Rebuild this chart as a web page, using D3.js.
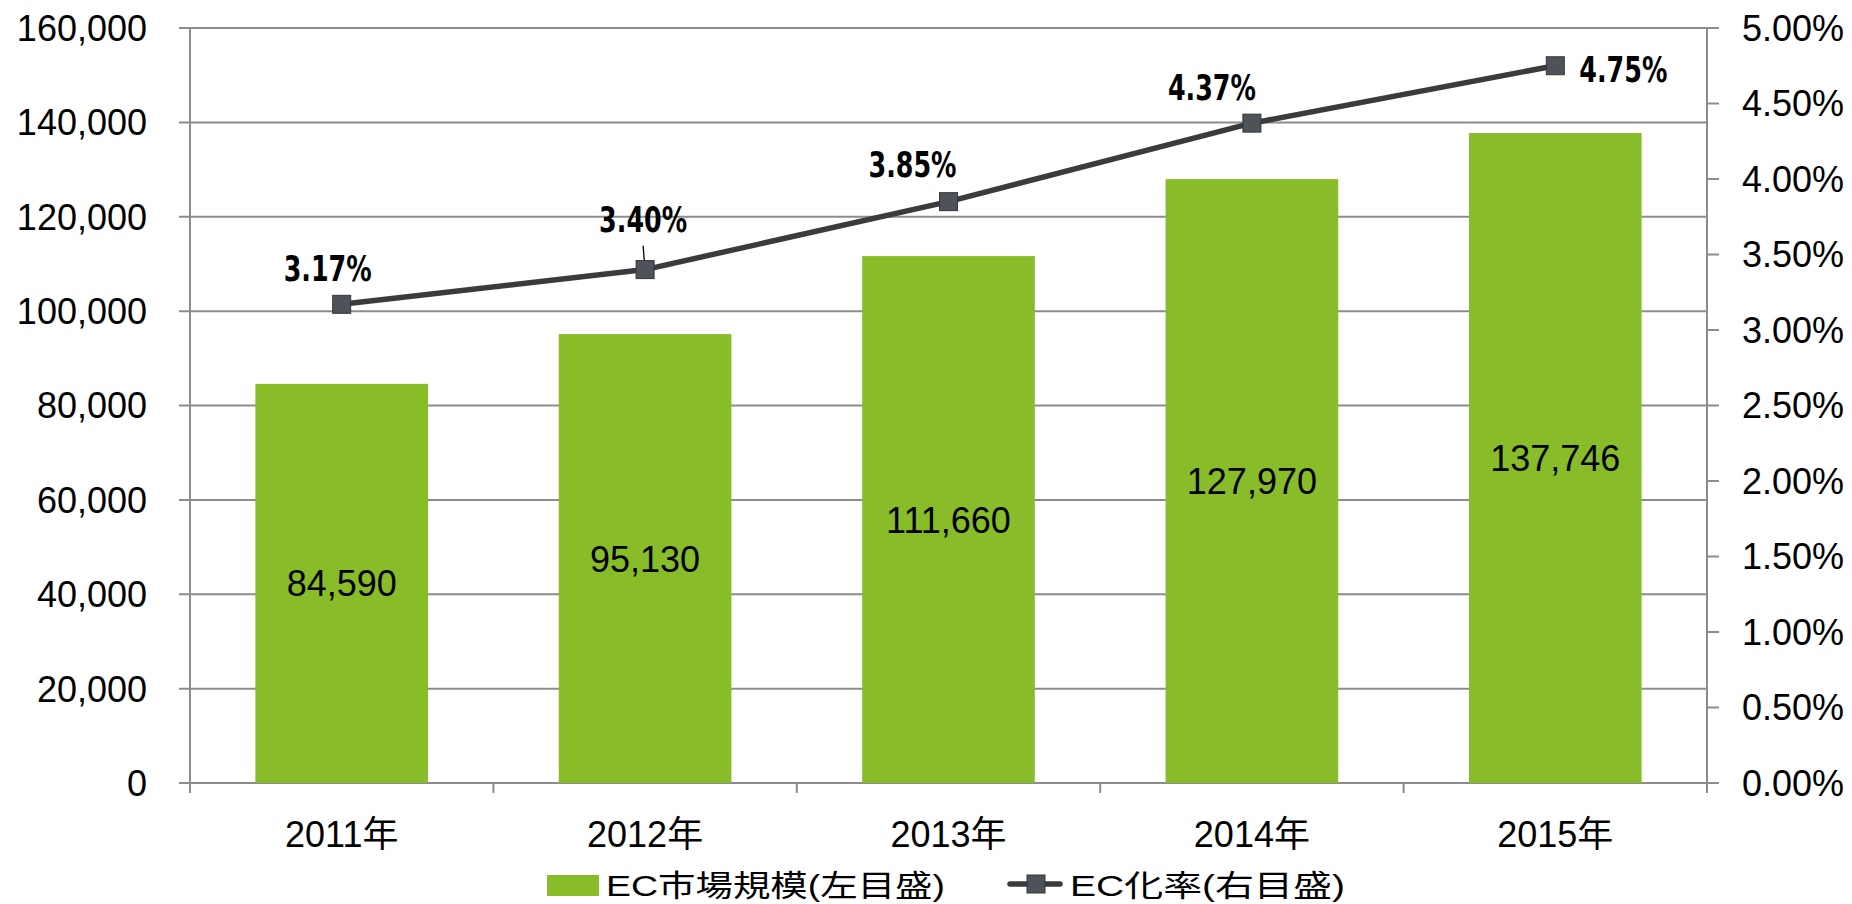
<!DOCTYPE html>
<html>
<head>
<meta charset="utf-8">
<script src="https://cdn.jsdelivr.net/npm/d3@7"></script>
<style>
  body { margin: 0; background: #fff; }
  svg { display: block; }
  text { font-family: "Liberation Sans", Arial, sans-serif; fill: #000; }
  .cjk { font-family: "Liberation Sans", "Noto Sans CJK JP", sans-serif; }
  .pct { font-family: "Liberation Sans Narrow", "DejaVu Sans Condensed", sans-serif; font-weight: bold; }
</style>
</head>
<body>
<div class="chart"></div>
<script>
// data
const years = ['2011年', '2012年', '2013年', '2014年', '2015年']
const marketSize = [84590, 95130, 111660, 127970, 137746]
const ecRate = [0.0317, 0.0340, 0.0385, 0.0437, 0.0475]
const leftTicks = [0, 20000, 40000, 60000, 80000, 100000, 120000, 140000, 160000]
const rightTicks = [0, 0.005, 0.01, 0.015, 0.02, 0.025, 0.03, 0.035, 0.04, 0.045, 0.05]
const legendLabels = ['EC市場規模(左目盛)', 'EC化率(右目盛)']

// label nudges, relative to each marker
const labelNudge = [[-14, -23, 'middle'], [-2, -38, 'middle'], [-36, -25, 'middle'], [-40, -23, 'middle'], [24, 16, 'start']]

const width = 1852
const height = 904
const margin = {top: 28, right: 145, bottom: 121, left: 190}

const green = '#88bc29'
const gridColor = '#8c8c8c'
const lineColor = '#3b3b3d'

const svg = d3.select('.chart')
.append('svg')
.attr('width', width)
.attr('height', height)

const x = d3.scaleBand()
.domain(years)
.range([margin.left, width - margin.right])
.paddingInner(0.431)
.paddingOuter(0.2155)

const y = d3.scaleLinear()
.domain([0, 160000])
.range([height - margin.bottom, margin.top])

const yRight = d3.scaleLinear()
.domain([0, 0.05])
.range([height - margin.bottom, margin.top])

const x0 = margin.left
const x1 = width - margin.right
const y0 = height - margin.bottom

// gridlines + left ticks
svg.append('g')
.selectAll('line')
.data(leftTicks)
.join('line')
.attr('x1', x0 - 11)
.attr('x2', x1)
.attr('y1', d => y(d))
.attr('y2', d => y(d))
.attr('stroke', gridColor)
.attr('stroke-width', 2)

// left axis labels
const fmt = d3.format(',')
svg.append('g')
.selectAll('text')
.data(leftTicks)
.join('text')
.attr('x', 147)
.attr('y', d => y(d))
.attr('dy', '0.36em')
.attr('text-anchor', 'end')
.style('font-size', '36px')
.text(d => fmt(d))

// right axis
svg.append('g')
.selectAll('line')
.data(rightTicks)
.join('line')
.attr('x1', x1)
.attr('x2', x1 + 12)
.attr('y1', d => yRight(d))
.attr('y2', d => yRight(d))
.attr('stroke', gridColor)
.attr('stroke-width', 2)

svg.append('g')
.selectAll('text')
.data(rightTicks)
.join('text')
.attr('x', 1742)
.attr('y', d => yRight(d))
.attr('dy', '0.36em')
.style('font-size', '36px')
.text(d => d3.format('.2%')(d))

// bars (cover the gridlines)
svg.append('g')
.selectAll('rect')
.data(marketSize)
.join('rect')
.attr('x', (d, i) => x(years[i]))
.attr('width', x.bandwidth())
.attr('y', d => y(d))
.attr('height', d => y0 - y(d))
.attr('fill', green)

svg.append('g')
.selectAll('text')
.data(marketSize)
.join('text')
.attr('x', (d, i) => x(years[i]) + x.bandwidth() / 2)
.attr('y', d => (y(d) + y0) / 2)
.attr('dy', '0.36em')
.attr('text-anchor', 'middle')
.style('font-size', '36px')
.text(d => fmt(d))

// vertical axis lines
svg.append('line')
.attr('x1', x0).attr('x2', x0)
.attr('y1', margin.top).attr('y2', y0 + 10)
.attr('stroke', gridColor).attr('stroke-width', 2)

svg.append('line')
.attr('x1', x1).attr('x2', x1)
.attr('y1', margin.top).attr('y2', y0 + 10)
.attr('stroke', gridColor).attr('stroke-width', 2)

// category ticks
const step = x.step()
svg.append('g')
.selectAll('line')
.data(d3.range(years.length + 1))
.join('line')
.attr('x1', i => x0 + i * step)
.attr('x2', i => x0 + i * step)
.attr('y1', y0)
.attr('y2', y0 + 10)
.attr('stroke', gridColor)
.attr('stroke-width', 2)

svg.append('g')
.selectAll('text')
.data(years)
.join('text')
.attr('class', 'cjk')
.attr('x', d => x(d) + x.bandwidth() / 2)
.attr('y', 847)
.attr('text-anchor', 'middle')
.style('font-size', '36px')
.text(d => d)

// line series
const cx = i => x(years[i]) + x.bandwidth() / 2

const line = d3.line()
.x((d, i) => cx(i))
.y(d => yRight(d))

svg.append('path')
.datum(ecRate)
.attr('d', line)
.attr('fill', 'none')
.attr('stroke', lineColor)
.attr('stroke-width', 5.5)
.attr('stroke-linejoin', 'round')

// leader line for the 2012 label
svg.append('line')
.attr('x1', cx(1) - 2).attr('x2', cx(1) - 0.5)
.attr('y1', yRight(ecRate[1]) - 24)
.attr('y2', yRight(ecRate[1]) - 5)
.attr('stroke', '#000').attr('stroke-width', 1.3)

svg.append('g')
.selectAll('rect')
.data(ecRate)
.join('rect')
.attr('x', (d, i) => cx(i) - 9)
.attr('y', d => yRight(d) - 9)
.attr('width', 18)
.attr('height', 18)
.attr('fill', '#4e5259')
.attr('stroke', '#34373b')
.attr('stroke-width', 1)

svg.append('g')
.selectAll('text')
.data(ecRate)
.join('text')
.attr('class', 'pct')
.attr('x', (d, i) => cx(i) + labelNudge[i][0])
.attr('y', (d, i) => yRight(d) + labelNudge[i][1])
.attr('text-anchor', (d, i) => labelNudge[i][2])
.attr('textLength', 88)
.attr('lengthAdjust', 'spacingAndGlyphs')
.style('font-size', '35px')
.text(d => d3.format('.2%')(d))

// legend
const legend = svg.append('g')

legend.append('rect')
.attr('x', 547).attr('y', 875)
.attr('width', 52).attr('height', 21)
.attr('fill', green)

legend.append('text')
.attr('class', 'cjk')
.attr('x', 606).attr('y', 896)
.attr('textLength', 339)
.attr('lengthAdjust', 'spacingAndGlyphs')
.style('font-size', '30px')
.text(legendLabels[0])

legend.append('line')
.attr('x1', 1010).attr('x2', 1060)
.attr('y1', 884).attr('y2', 884)
.attr('stroke', lineColor).attr('stroke-width', 5.5)
.attr('stroke-linecap', 'round')

legend.append('rect')
.attr('x', 1027).attr('y', 875)
.attr('width', 18).attr('height', 18)
.attr('fill', '#4e5259')
.attr('stroke', '#34373b')

legend.append('text')
.attr('class', 'cjk')
.attr('x', 1070).attr('y', 896)
.attr('textLength', 275)
.attr('lengthAdjust', 'spacingAndGlyphs')
.style('font-size', '30px')
.text(legendLabels[1])
</script>
</body>
</html>
